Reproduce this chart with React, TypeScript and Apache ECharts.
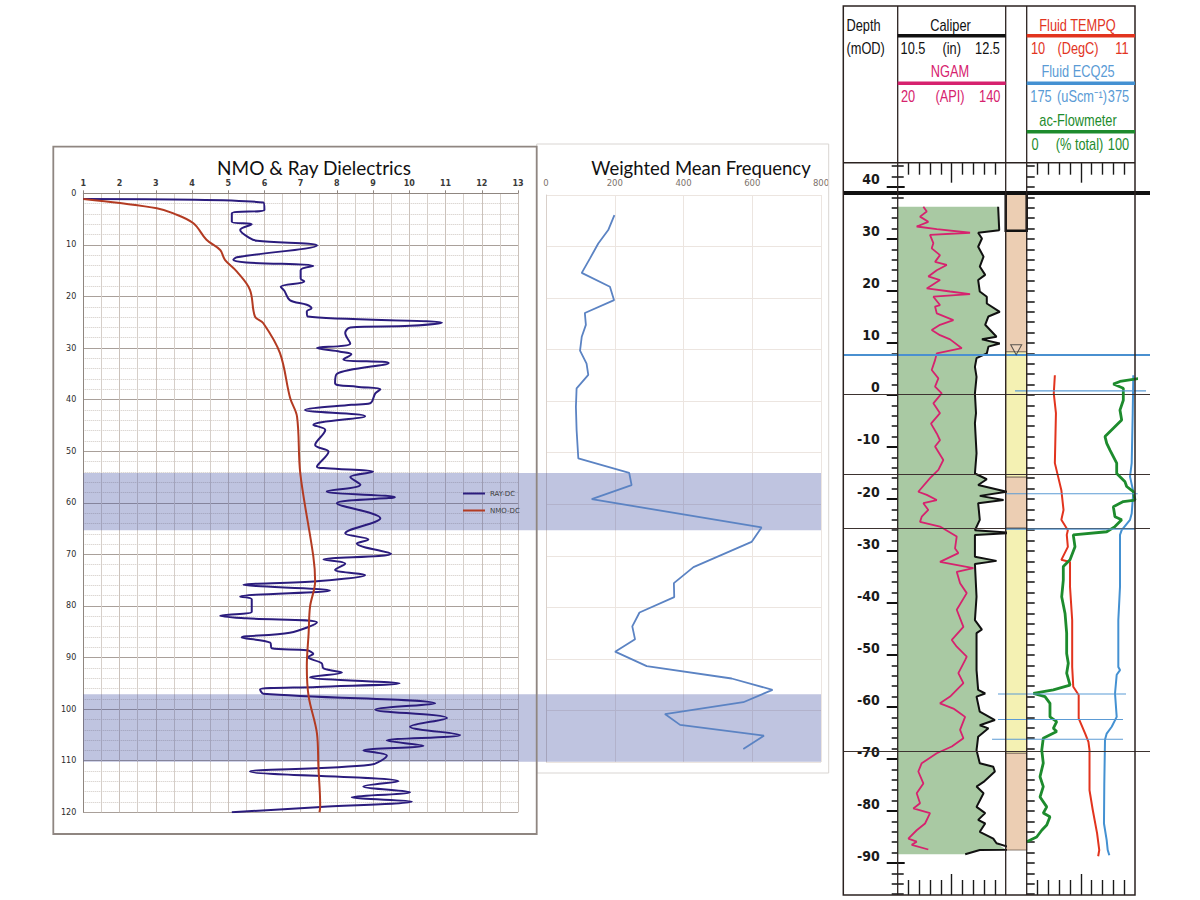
import React, { useEffect, useRef } from "react";
import * as echarts from "echarts";

// ---------------- NMO & Ray Dielectrics (depth in m, dielectric constant) ----------------
const rayDepth = [1.1, 1.8, 3.2, 3.9, 5.5, 6.0, 7.1, 8.7, 9.2, 10.1, 12.4, 12.9, 13.4, 14.1, 14.9, 16.5, 17.1, 18.1, 18.9, 20.7, 21.6, 22.3, 22.9, 23.9, 25.1, 25.7, 26.0, 27.1, 29.1, 30.0, 30.7, 31.2, 32.2, 32.9, 35.0, 36.8, 37.5, 38.0, 38.8, 40.7, 41.0, 42.0, 43.2, 44.9, 45.9, 48.8, 50.1, 53.0, 53.3, 54.0, 55.0, 56.5, 57.8, 58.9, 60.1, 63.0, 65.9, 67.1, 67.9, 69.9, 71.0, 71.8, 73.0, 74.0, 75.2, 75.9, 77.0, 78.2, 78.7, 80.1, 81.1, 81.9, 82.4, 83.2, 85.2, 86.1, 87.1, 88.2, 88.6, 89.3, 89.9, 91.1, 92.1, 92.9, 93.8, 95.0, 95.7, 96.2, 97.0, 98.9, 100.1, 101.7, 103.4, 105.0, 106.1, 107.1, 108.0, 109.0, 110.8, 112.1, 114.0, 115.0, 116.1, 117.1, 117.9, 119.0, 120.0];
const rayDC = [1.0, 5.97, 6.0, 5.1, 5.1, 5.65, 5.33, 5.6, 5.8, 7.45, 5.24, 5.14, 5.5, 7.35, 7.0, 7.0, 7.1, 6.45, 6.55, 6.7, 7.17, 7.3, 7.17, 7.2, 10.9, 10.02, 8.37, 8.23, 8.37, 7.45, 8.09, 8.4, 8.18, 9.43, 8.0, 7.95, 8.55, 9.2, 9.06, 8.92, 8.4, 7.12, 8.78, 7.35, 7.68, 7.4, 7.77, 7.45, 7.72, 9.0, 8.37, 8.65, 7.72, 9.6, 8.0, 9.2, 8.23, 8.87, 8.55, 9.5, 7.63, 8.23, 7.95, 8.78, 7.45, 5.42, 7.81, 5.33, 5.65, 5.65, 5.65, 4.78, 5.5, 7.45, 6.7, 5.37, 6.16, 6.2, 7.17, 7.35, 7.2, 7.58, 7.63, 8.14, 7.26, 9.73, 7.45, 5.88, 5.97, 10.71, 9.06, 11.04, 10.02, 11.4, 9.38, 10.39, 8.73, 9.38, 8.92, 5.6, 9.7, 8.73, 10.02, 8.41, 10.07, 7.45, 5.1];
const nmoDepth = [1.1, 1.9, 2.9, 3.9, 5.8, 9.0, 11.0, 12.9, 15.2, 18.7, 23.9, 25.2, 31.0, 39.7, 43.3, 54.3, 70.4, 75.2, 80.1, 85.3, 91.7, 97.5, 104.7, 111.1, 118.8, 120.0];
const nmoDC = [1.0, 2.01, 3.03, 3.49, 4.04, 4.4, 4.78, 4.91, 5.24, 5.6, 5.74, 5.97, 6.43, 6.71, 6.9, 6.99, 7.35, 7.4, 7.26, 7.22, 7.17, 7.22, 7.45, 7.49, 7.54, 7.52];

// Highlighted depth intervals (m)
const bandTop = [54.2, 97.1];
const bandBottom = [65.3, 110.2];

// ---------------- Weighted Mean Frequency ----------------
const wmfDepth = [3.9, 6.8, 9.4, 12.3, 15.1, 17.8, 20.4, 22.9, 25.2, 27.5, 30.2, 32.7, 34.9, 37.5, 41.1, 45.6, 51.1, 53.9, 56.3, 59.0, 64.5, 67.3, 72.2, 75.3, 78.0, 81.0, 83.7, 86.2, 88.6, 91.4, 93.8, 96.0, 98.4, 100.7, 102.8, 104.9, 107.5];
const wmfValue = [199, 181, 152, 128, 104, 186, 198, 113, 116, 104, 99, 118, 123, 89, 87, 89, 94, 242, 249, 133, 627, 598, 429, 372, 373, 272, 251, 259, 201, 293, 540, 659, 574, 346, 390, 634, 574];

// ---------------- Borehole log (depth in mOD) ----------------
const depthLabels = [40, 30, 20, 10, 0, -10, -20, -30, -40, -50, -60, -70, -80, -90];

const ngamDepth = [36.2, 35.3, 34.3, 33.3, 32.4, 31.9, 31.2, 30.8, 29.2, 28.2, 26.9, 25.6, 25.0, 24.0, 22.8, 22.1, 20.5, 19.9, 19.4, 18.9, 17.3, 17.0, 15.7, 14.4, 13.5, 12.5, 11.5, 10.7, 9.0, 8.0, 6.7, 4.8, 3.2, 1.6, 0.3, -1.6, -3.5, -5.5, -7.4, -8.7, -9.9, -12.5, -14.4, -16.0, -18.6, -19.2, -20.2, -20.8, -22.1, -23.4, -24.4, -25.3, -27.2, -29.5, -30.4, -32.1, -33.3, -34.0, -36.2, -38.1, -41.3, -44.6, -47.1, -48.4, -50.3, -51.0, -53.5, -55.4, -58.0, -59.3, -60.3, -61.2, -61.9, -64.4, -66.0, -67.6, -68.9, -70.8, -72.4, -74.7, -76.6, -78.5, -79.5, -80.4, -82.4, -83.7, -85.3, -85.9, -86.5, -87.4];
const ngamApi = [48.5, 52.3, 44.8, 54, 41.1, 63.4, 100.4, 55.9, 59.6, 57.8, 67, 61.5, 74.5, 63.4, 54, 67, 52.3, 78.2, 100.4, 59.6, 67, 61.5, 63.4, 81.9, 67, 57.8, 67, 78.2, 91.2, 63.4, 61.5, 57.8, 65.2, 61.5, 68.9, 59.6, 67, 57, 63.4, 67, 61.5, 70.7, 65.2, 55.9, 42.9, 52.3, 63.4, 48.5, 54, 46.7, 44.8, 67, 85.6, 83.7, 87.4, 67, 104.1, 85.6, 89.3, 96.7, 85.6, 93, 80.1, 85.6, 96.7, 94.9, 87.4, 93, 78.2, 67, 81.9, 89.3, 94.9, 89.3, 93, 80.1, 63.4, 46.7, 42.9, 48.5, 41.1, 44.8, 37.4, 55.9, 50.4, 41.1, 31.8, 41.1, 35.6, 54];

const caliperDepth = [36.2, 31.7, 31.2, 30.1, 28.5, 26.6, 24.7, 23.1, 22.1, 19.9, 18.9, 17.6, 16.0, 15.1, 13.5, 11.2, 10.7, 9.9, 9.3, 8.0, 7.1, 5.4, 3.5, 0.3, -3.5, -5.4, -11.2, -15.1, -16.2, -17.3, -18.6, -19.4, -20.2, -20.8, -24.0, -26.0, -26.5, -26.9, -31.1, -31.9, -32.5, -38.8, -43.3, -45.1, -45.8, -52.9, -56.7, -57.4, -58.0, -60.9, -62.5, -63.5, -64.1, -65.7, -68.3, -70.8, -71.5, -72.4, -74.4, -75.3, -76.6, -79.2, -80.4, -81.7, -82.4, -84.0, -85.3, -86.2, -87.4, -87.5, -88.3];
const caliperIn = [12.36, 12.38, 11.99, 12.06, 11.99, 12.09, 12.02, 12.12, 11.99, 12.02, 12.15, 12.15, 12.39, 12.18, 12.12, 12.33, 12.06, 12.39, 12.18, 12.15, 11.96, 11.93, 11.96, 11.93, 11.95, 11.93, 11.96, 11.93, 12.15, 11.99, 12.52, 12.02, 12.46, 11.99, 12.02, 11.93, 12.64, 11.93, 11.93, 12.33, 11.93, 11.96, 11.93, 12.06, 11.96, 11.96, 11.99, 12.12, 11.96, 12.02, 12.3, 12.02, 12.18, 11.99, 11.96, 12.02, 12.27, 12.3, 12.09, 11.96, 12.09, 11.96, 12.12, 11.99, 12.12, 12.02, 12.27, 12.33, 12.7, 12.02, 11.75];

const tempDepth = [3.8, 0.3, -3.5, -13.1, -15.7, -18.3, -22.1, -24.0, -26.0, -26.9, -29.2, -31.7, -32.1, -36.9, -43.3, -52.3, -56.1, -57.7, -62.2, -65.1, -66.7, -68.3, -76.0, -79.8, -84.3, -87.5, -88.7];
const tempC = [10.26, 10.25, 10.27, 10.26, 10.29, 10.32, 10.34, 10.32, 10.38, 10.37, 10.38, 10.32, 10.4, 10.4, 10.42, 10.42, 10.43, 10.48, 10.48, 10.54, 10.57, 10.58, 10.58, 10.61, 10.65, 10.67, 10.66];

const ecDepth = [3.8, -3.5, -13.1, -15.7, -18.6, -22.8, -24.0, -26.0, -26.9, -36.9, -43.3, -52.3, -52.9, -53.8, -57.4, -61.9, -63.8, -65.1, -66.3, -74.7, -82.4, -85.6, -87.5, -88.5];
const ecValue = [371.9, 370.8, 368.9, 365.8, 371.9, 368.9, 365.8, 350.4, 347.3, 347.3, 344.2, 344.2, 347.3, 341.2, 338.1, 341.2, 332, 322.7, 319.6, 318.3, 317.7, 322.7, 324.6, 327.6];

const flowDepth = [4.3, 3.2, 2.6, 2.1, 1.3, -1.0, -2.9, -4.8, -6.4, -8.0, -9.3, -10.6, -13.1, -15.1, -16.7, -17.6, -18.6, -20.2, -20.5, -21.5, -23.4, -24.0, -25.3, -26.3, -26.9, -29.2, -31.7, -33.0, -35.6, -38.8, -42.0, -45.8, -49.7, -51.6, -53.5, -55.8, -56.7, -57.4, -58.0, -59.3, -61.9, -62.8, -64.1, -64.7, -66.0, -68.3, -70.8, -73.4, -75.3, -77.3, -79.2, -80.4, -81.1, -82.7, -83.7, -85.0, -85.9];
const flowPct = [112, 104.6, 86.1, 80, 89.2, 89.2, 86.1, 87.7, 80, 72.3, 73.9, 76.9, 83.1, 83.1, 90.8, 92.3, 98.4, 100, 89.2, 80, 81.5, 87.7, 81.5, 73.9, 43, 44.6, 40, 33.8, 33.8, 32.3, 35.4, 36.9, 36.9, 38.4, 36.9, 40, 24.6, 6.2, 16.9, 21.5, 21.5, 27.7, 24.6, 27.7, 15.3, 13.9, 15.3, 12.3, 15.3, 12.3, 18.5, 15.3, 21.5, 18.5, 13.9, 9.2, 0];

const lithoTop = [38.85, 8.3, -15.8, -25.6, -68.9];
const lithoBottom = [8.3, -15.8, -25.6, -68.9, -87.5];
const lithoKind = ["clay", "sand", "clay", "sand", "clay"];
const casingTop = 38.85;
const casingBottom = 31.6;
const waterLevelMark = 8.7;
const waterLine = 7.8;
const surfaceLine = 38.85;
const boundaryDepths = [0.2, -15.3, -25.6, -68.6];
const stationDepth = [0.8, -19.0, -25.8, -57.5, -62.4, -66.2];
const stationFrom = [-10.8, -19.1, -19.1, -26.5, -26.5, -32];
const stationTo = [110.2, 102.5, 100, 91.7, 88.9, 88.9];

// ---------------- layout / style constants ----------------
const DEPTH_MIN = -96.15;
const DEPTH_MAX = 44.67;
const LOG_TOP = 162.7;
const LOG_H = 732.3;
const X_DEPTH = 843.3;
const X_CAL = 897.7;
const X_LITH = 1005.7;
const X_FLUID = 1026.7;
const X_END = 1135;
const W_FLUID = X_END - X_FLUID;

const C_NGAM = "#d6226e";
const C_TEMP = "#e2341e";
const C_EC = "#4491d2";
const C_FLOW = "#1d8b2d";
const LOG_FONT = '"Liberation Sans", Arial, sans-serif';
const NARROW = '"DejaVu Sans Condensed", "Liberation Sans Narrow", "Liberation Sans", sans-serif';

const zip = (xs: number[], ys: number[]) => xs.map((x, i) => [x, ys[i]]);

function buildOption() {
  const minorEvens: number[] = [];
  for (let d = -96; d <= 44; d += 2) if (d % 10 !== 0) minorEvens.push(d);
  const allEvens: number[] = [];
  for (let d = -96; d <= 44; d += 2) allEvens.push(d);

  const noAxisParts = {
    axisLine: { show: false, onZero: false },
    axisLabel: { show: false },
    axisTick: { show: false },
    splitLine: { show: false },
  };
  const hiddenX = (gridIndex: number, min: number, max: number) => ({
    type: "value", gridIndex, min, max, show: false, ...noAxisParts,
  });
  const hiddenY = (gridIndex: number, min: number, max: number, inverse = false) => ({
    type: "value", gridIndex, min, max, inverse, show: false, ...noAxisParts,
  });
  const trackTicks = (gridIndex: number, position: string, values: number[], length: number) => ({
    type: "value", gridIndex, position, min: 0, max: 10,
    axisLine: { show: false, onZero: false },
    axisLabel: { show: false },
    splitLine: { show: false },
    axisTick: { show: true, inside: true, length, customValues: values, lineStyle: { color: "#1a1a1a", width: 1.4 } },
  });
  const depthTicks = (gridIndex: number, inside: boolean, values: number[], length: number, width: number, labels: boolean) => ({
    type: "value", gridIndex, position: "left", min: DEPTH_MIN, max: DEPTH_MAX,
    axisLine: { show: false, onZero: false },
    splitLine: { show: false },
    axisTick: { show: true, inside, length, customValues: values, lineStyle: { color: "#111", width } },
    axisLabel: labels
      ? {
          show: true, customValues: depthLabels, margin: 18, fontSize: 14, fontWeight: "bold", fontFamily: NARROW,
          color: "#1a1a1a", verticalAlign: "bottom", lineHeight: 15,
          formatter: (v: number) => String(v),
        }
      : { show: false },
  });

  const logGrid = (left: number, width: number) => ({
    left, width, top: LOG_TOP, height: LOG_H, containLabel: false, outerBoundsMode: "none",
  });

  const hText = (x: number, y: number, text: string, color: string, align = "center") => ({
    type: "text", x, y, scaleX: 0.8, z: 30, silent: true,
    style: {
      text, fill: color, fontSize: 16, fontFamily: LOG_FONT,
      textAlign: align, textVerticalAlign: "middle", align, verticalAlign: "middle",
    },
  });
  const hLine = (x1: number, x2: number, y: number, color: string, w: number) => ({
    type: "line", z: 30, silent: true, shape: { x1, y1: y, x2, y2: y }, style: { stroke: color, lineWidth: w },
  });
  const vLine = (x: number, y1: number, y2: number, w: number) => ({
    type: "line", z: 30, silent: true, shape: { x1: x, y1, x2: x, y2 }, style: { stroke: "#2b2220", lineWidth: w },
  });

  const lithoColor: Record<string, string> = { clay: "#ecceb3", sand: "#f4f1b3" };

  return {
    animation: false,
    backgroundColor: "#ffffff",
    textStyle: { fontFamily: "DejaVu Sans" },
    title: [
      { text: "NMO & Ray Dielectrics", left: 309, top: 153, textAlign: "center", textStyle: { fontFamily: "Lato", fontWeight: "normal", fontSize: 19, color: "#111" } },
      { text: "Weighted Mean Frequency", left: 696, top: 153, textAlign: "center", textStyle: { fontFamily: "Lato", fontWeight: "normal", fontSize: 18.5, color: "#111" } },
    ],
    legend: {
      data: ["RAY-DC", "NMO-DC"], orient: "vertical", left: 458, top: 483.5,
      itemWidth: 22, itemHeight: 2, itemGap: 7, icon: "rect",
      textStyle: { fontSize: 7, color: "#404040", lineHeight: 10, fontFamily: "DejaVu Sans" },
    },
    grid: [
      { left: 83.3, top: 193.3, width: 434.7, height: 619, containLabel: false, outerBoundsMode: "none" },
      { left: 546, top: 195, width: 275, height: 567, containLabel: false, outerBoundsMode: "none" },
      { left: 83.3, top: 193.3, width: 737.7, height: 619, containLabel: false, outerBoundsMode: "none" },
      logGrid(X_CAL, X_LITH - X_CAL),
      logGrid(X_LITH, X_FLUID - X_LITH),
      logGrid(X_FLUID, W_FLUID),
      logGrid(X_DEPTH, 1150 - X_DEPTH),
    ],
    xAxis: [
      {
        type: "value", gridIndex: 0, position: "top", min: 1, max: 13, interval: 1,
        axisLine: { show: true, onZero: false, lineStyle: { color: "#8f8680", width: 1 } },
        axisTick: { show: true, length: 3, lineStyle: { color: "#8f8680" } },
        axisLabel: { fontSize: 8, fontWeight: "bold", color: "#3a3a3a", margin: 6 },
        splitLine: { show: true, lineStyle: { color: "#cbc2bb", width: 1 } },
        minorTick: { show: false, splitNumber: 2 },
        minorSplitLine: { show: true, lineStyle: { color: "#d6cfc9", width: 1 } },
      },
      {
        type: "value", gridIndex: 1, position: "top", min: 0, max: 800, interval: 200,
        axisLine: { show: false, onZero: false },
        axisTick: { show: false },
        axisLabel: { fontSize: 8.5, color: "#7d726b", margin: 8 },
        splitLine: { show: true, lineStyle: { color: "#ece5e0", width: 1 } },
      },
      hiddenX(2, 0, 1),
      hiddenX(3, 10.5, 12.5),
      hiddenX(3, 20, 140),
      trackTicks(3, "top", [1, 2, 3, 4, 6, 7, 8, 9], 12),
      trackTicks(3, "top", [5], 20),
      trackTicks(3, "bottom", [1, 2, 3, 4, 6, 7, 8, 9], 15),
      trackTicks(3, "bottom", [5], 21),
      hiddenX(4, 0, 1),
      hiddenX(5, 10, 11),
      hiddenX(5, 175, 375),
      hiddenX(5, 0, 100),
      trackTicks(5, "top", [1, 2, 3, 4, 6, 7, 8, 9], 12),
      trackTicks(5, "top", [5], 20),
      trackTicks(5, "bottom", [1, 2, 3, 4, 6, 7, 8, 9], 15),
      trackTicks(5, "bottom", [5], 21),
      hiddenX(6, (X_DEPTH - X_FLUID) / (W_FLUID / 100), (1150 - X_FLUID) / (W_FLUID / 100)),
    ],
    yAxis: [
      {
        type: "value", gridIndex: 0, min: 0, max: 120, interval: 10, inverse: true,
        axisLine: { show: true, onZero: false, lineStyle: { color: "#8f8680", width: 1 } },
        axisTick: { show: false },
        axisLabel: { fontSize: 8, color: "#2a2a2a", margin: 7 },
        splitLine: { show: true, lineStyle: { color: "#a9a09a", width: 1 } },
        minorTick: { show: false, splitNumber: 5 },
        minorSplitLine: { show: true, lineStyle: { color: "#cfc8c2", width: 1, type: "dotted" } },
      },
      {
        type: "value", gridIndex: 1, min: 0, max: 110, interval: 10, inverse: true,
        axisLine: { show: true, onZero: false, lineStyle: { color: "#d9d0ca", width: 1 } },
        axisTick: { show: false },
        axisLabel: { show: false },
        splitLine: { show: true, lineStyle: { color: "#ece5e0", width: 1 } },
      },
      hiddenY(2, 0, 120, true),
      depthTicks(3, false, minorEvens, 6, 1.5, false),
      depthTicks(3, true, minorEvens, 6, 1.5, false),
      depthTicks(3, false, depthLabels, 11, 2, true),
      depthTicks(3, true, depthLabels, 7, 2, false),
      hiddenY(4, DEPTH_MIN, DEPTH_MAX),
      depthTicks(5, true, allEvens, 8, 1.5, false),
      hiddenY(6, DEPTH_MIN, DEPTH_MAX),
    ],
    series: [
      {
        name: "RAY-DC", type: "line", xAxisIndex: 0, yAxisIndex: 0, z: 4,
        data: zip(rayDC, rayDepth), smooth: 0.35, symbol: "none",
        itemStyle: { color: "#2b1c7d" }, lineStyle: { color: "#2b1c7d", width: 2 },
      },
      {
        name: "NMO-DC", type: "line", xAxisIndex: 0, yAxisIndex: 0, z: 4,
        data: zip(nmoDC, nmoDepth), smooth: 0.35, symbol: "none",
        itemStyle: { color: "#b33b22" }, lineStyle: { color: "#b33b22", width: 2 },
      },
      {
        name: "Weighted Mean Frequency", type: "line", xAxisIndex: 1, yAxisIndex: 1, z: 4,
        data: zip(wmfValue, wmfDepth), symbol: "none",
        lineStyle: { color: "#5b83c3", width: 1.8 },
      },
      {
        name: "bands", type: "line", xAxisIndex: 2, yAxisIndex: 2, z: 1,
        data: [[0.5, 0]], symbol: "none", lineStyle: { width: 0 },
        markArea: {
          silent: true, z: 1,
          itemStyle: { color: "rgba(61,76,161,0.33)" },
          data: bandTop.map((t, i) => [{ yAxis: t }, { yAxis: bandBottom[i] }]),
        },
      },
      {
        name: "caliper fill", type: "custom", xAxisIndex: 3, yAxisIndex: 3, z: 1, silent: true,
        data: [[11, 0]],
        renderItem: (_params: any, api: any) => {
          const pts: number[][] = [];
          pts.push(api.coord([10.5, caliperDepth[0]]));
          caliperIn.forEach((v, i) => pts.push(api.coord([Math.min(v, 12.5), caliperDepth[i]])));
          pts.push(api.coord([10.5, caliperDepth[caliperDepth.length - 1]]));
          return { type: "polygon", shape: { points: pts }, style: { fill: "#a9c9a3" } };
        },
      },
      {
        name: "NGAM", type: "line", xAxisIndex: 4, yAxisIndex: 3, z: 3,
        data: zip(ngamApi, ngamDepth), symbol: "none",
        lineStyle: { color: C_NGAM, width: 1.8 },
      },
      {
        name: "Caliper", type: "line", xAxisIndex: 3, yAxisIndex: 3, z: 4, clip: false,
        data: zip(caliperIn, caliperDepth), symbol: "none",
        lineStyle: { color: "#111", width: 2 },
      },
      {
        name: "lithology", type: "line", xAxisIndex: 9, yAxisIndex: 7, z: 1,
        data: [[0.5, 0]], symbol: "none", lineStyle: { width: 0 },
        markArea: {
          silent: true,
          data: lithoTop.map((t, i) => [
            { yAxis: t, itemStyle: { color: lithoColor[lithoKind[i]], borderColor: "#6e5e52", borderWidth: 0.8 } },
            { yAxis: lithoBottom[i] },
          ]),
        },
      },
      {
        name: "casing", type: "line", xAxisIndex: 9, yAxisIndex: 7, z: 2,
        data: [[0.5, 0]], symbol: "none", lineStyle: { width: 0 },
        markArea: {
          silent: true, z: 3,
          data: [[
            { yAxis: casingTop, itemStyle: { color: "rgba(0,0,0,0)", borderColor: "#111", borderWidth: 2.5 } },
            { yAxis: casingBottom },
          ]],
        },
      },
      {
        name: "water level", type: "scatter", xAxisIndex: 9, yAxisIndex: 7, z: 6,
        data: [[0.5, waterLevelMark]], symbol: "triangle", symbolRotate: 180, symbolSize: [11, 10],
        itemStyle: { color: "rgba(255,255,255,0.2)", borderColor: "#333", borderWidth: 1 },
      },
      {
        name: "Fluid TEMPQ", type: "line", xAxisIndex: 10, yAxisIndex: 8, z: 4,
        data: zip(tempC, tempDepth), symbol: "none",
        lineStyle: { color: C_TEMP, width: 2 },
      },
      {
        name: "Fluid ECQ25", type: "line", xAxisIndex: 11, yAxisIndex: 8, z: 4,
        data: zip(ecValue, ecDepth), symbol: "none",
        lineStyle: { color: C_EC, width: 2 },
      },
      {
        name: "ac-Flowmeter", type: "line", xAxisIndex: 12, yAxisIndex: 8, z: 5, clip: false,
        data: zip(flowPct, flowDepth), symbol: "none",
        lineStyle: { color: C_FLOW, width: 2.8 },
      },
      {
        name: "boundaries", type: "line", xAxisIndex: 17, yAxisIndex: 9, z: 5,
        data: [[0, 0]], symbol: "none", lineStyle: { width: 0 },
        markLine: {
          silent: true, symbol: ["none", "none"], label: { show: false }, z: 5,
          data: [
            { yAxis: surfaceLine, lineStyle: { color: "#111", width: 4, type: "solid" } },
            { yAxis: waterLine, lineStyle: { color: "#4a90d0", width: 2.2, type: "solid" } },
            ...boundaryDepths.map((d) => ({ yAxis: d, lineStyle: { color: "#3d3330", width: 1.2, type: "solid" } })),
          ],
        },
      },
      ...stationDepth.map((d, i) => ({
        name: "station " + i, type: "line", xAxisIndex: 17, yAxisIndex: 9, z: 5,
        data: [[stationFrom[i], d], [stationTo[i], d]], symbol: "none",
        lineStyle: { color: "#5b9bd5", width: 1.1 },
      })),
    ],
    graphic: [
      // chart frames
      { type: "rect", z: 20, silent: true, shape: { x: 536.7, y: 144, width: 292, height: 629 }, style: { fill: "none", stroke: "#d9d5d2", lineWidth: 1 } },
      { type: "rect", z: 21, silent: true, shape: { x: 53.3, y: 146.7, width: 483.4, height: 687.3 }, style: { fill: "none", stroke: "#8f8681", lineWidth: 1.8 } },
      // log frame
      { type: "rect", z: 30, silent: true, shape: { x: X_DEPTH, y: 6, width: X_END - X_DEPTH, height: 889 }, style: { fill: "none", stroke: "#2b2220", lineWidth: 1.5 } },
      vLine(X_CAL, 6, 895, 1.3),
      vLine(X_LITH, 6, 895, 1.3),
      vLine(X_FLUID, 6, 895, 1.3),
      hLine(X_DEPTH, X_END, LOG_TOP, "#2b2220", 1.5),
      // header
      hText(846.5, 25, "Depth", "#111", "left"),
      hText(846.5, 48.3, "(mOD)", "#111", "left"),
      hText(950.5, 25, "Caliper", "#111"),
      hLine(X_CAL, X_LITH, 35.7, "#111", 3.5),
      hText(913, 48.3, "10.5", "#111"),
      hText(951.7, 48.3, "(in)", "#111"),
      hText(987.5, 48.3, "12.5", "#111"),
      hText(950, 71.7, "NGAM", C_NGAM),
      hLine(X_CAL, X_LITH, 83.3, C_NGAM, 3.5),
      hText(908, 96.7, "20", C_NGAM),
      hText(950, 96.7, "(API)", C_NGAM),
      hText(989.7, 96.7, "140", C_NGAM),
      hText(1077.5, 25, "Fluid TEMPQ", C_TEMP),
      hLine(X_FLUID, X_END, 35.7, C_TEMP, 3.5),
      hText(1038, 48.3, "10", C_TEMP),
      hText(1078, 48.3, "(DegC)", C_TEMP),
      hText(1122, 48.3, "11", C_TEMP),
      hText(1078, 71.7, "Fluid ECQ25", "#5a9bd5"),
      hLine(X_FLUID, X_END, 83.3, C_EC, 3.5),
      hText(1041, 96.7, "175", "#5a9bd5"),
      hText(1082, 96.7, "(uScm⁻¹)", "#5a9bd5"),
      hText(1118.5, 96.7, "375", "#5a9bd5"),
      hText(1078, 120, "ac-Flowmeter", C_FLOW),
      hLine(X_FLUID, X_END, 131.7, C_FLOW, 3.5),
      hText(1035, 144, "0", C_FLOW),
      hText(1079.5, 144, "(% total)", C_FLOW),
      hText(1118.5, 144, "100", C_FLOW),
    ],
  };
}

export default function App() {
  const ref = useRef<HTMLDivElement>(null);
  useEffect(() => {
    if (!ref.current) return;
    const chart = echarts.init(ref.current, null, { renderer: "svg" });
    chart.setOption(buildOption() as any);
    return () => chart.dispose();
  }, []);
  return (
    <div
      ref={ref}
      style={{ position: "fixed", left: 0, top: 0, width: 1200, height: 900, background: "#fff" }}
    />
  );
}
